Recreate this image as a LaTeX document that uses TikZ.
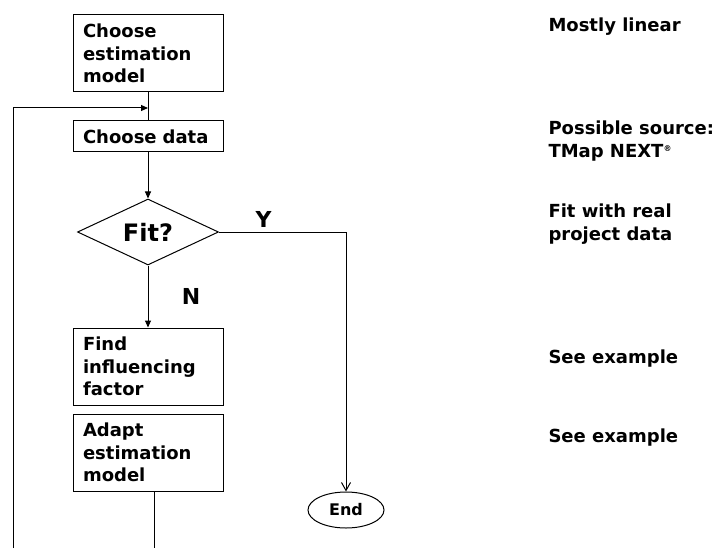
\documentclass[tikz,border=0pt]{standalone}
\usepackage{fontspec}
\setmainfont{DejaVu Sans}
\usetikzlibrary{shapes,arrows,arrows.meta,positioning}

\begin{document}
\begin{tikzpicture}[x=1pt, y=-1pt, node distance=8pt, auto,
    block/.style={rectangle, draw, text width=130pt, align=left, inner xsep=10pt, inner ysep=3pt,
        font=\bfseries\fontsize{18}{22.5}\selectfont},
    decision/.style={diamond, draw, aspect=2.14, inner sep=0pt, minimum width=141pt, minimum height=66pt,
        font=\bfseries\fontsize{24}{28}\selectfont},
    terminal/.style={ellipse, draw, inner sep=0pt, minimum width=76pt, minimum height=36pt,
        font=\bfseries\fontsize{16}{18}\selectfont},
    note/.style={anchor=west, align=left, inner sep=0pt, font=\bfseries\fontsize{18}{23}\selectfont},
    branch/.style={font=\bfseries\fontsize{22}{24}\selectfont},
    arrow/.style={-{Triangle[length=7pt,width=6pt]}},
    line width=1pt]

    \useasboundingbox (0,0) rectangle (719,548);

    % main flow
    \node[block, minimum height=77pt] (model) at (148,53.5) {Choose\\estimation\\model};
    \node[block, minimum height=31pt] (data) at (148,136.5) {Choose data};
    \node[decision] (fit) at (148,232) {Fit?};
    \node[block, minimum height=77pt] (factor) at (148,366.5) {Find\\influencing\\factor};
    \node[block, minimum height=77pt, below=of factor] (adapt) {Adapt\\estimation\\model};
    \node[terminal] (end) at (346,510) {End};

    % remarks on the right
    \node[note] (linear) at (548,27) {Mostly linear};
    \node[note] (source) at (548,141.5) {Possible source:\\TMap NEXT\textsuperscript{\footnotesize ®}};
    \node[note] (real) at (548,224.5) {Fit with real\\project data};
    \node[note] (example1) at (548,359) {See example};
    \node[note] (example2) at (548,438) {See example};

    % loop back points
    \coordinate (join) at (148,108);
    \coordinate (loopin) at (13,548);
    \coordinate (loopout) at (154,548);

    \draw (model) -- (data);
    \draw[arrow] (data) -- (fit);
    \draw[arrow] (fit.south) -- node[branch, xshift=30pt] {N} (factor.north);
    \draw[-{Straight Barb[length=8pt,width=9pt]}] (fit.east) -| node[branch, pos=0.176, yshift=1pt] {Y} (end.north);
    \draw[arrow] (loopin) |- (join);
    \draw (adapt.south -| loopout) -- (loopout);

\end{tikzpicture}
\end{document}
